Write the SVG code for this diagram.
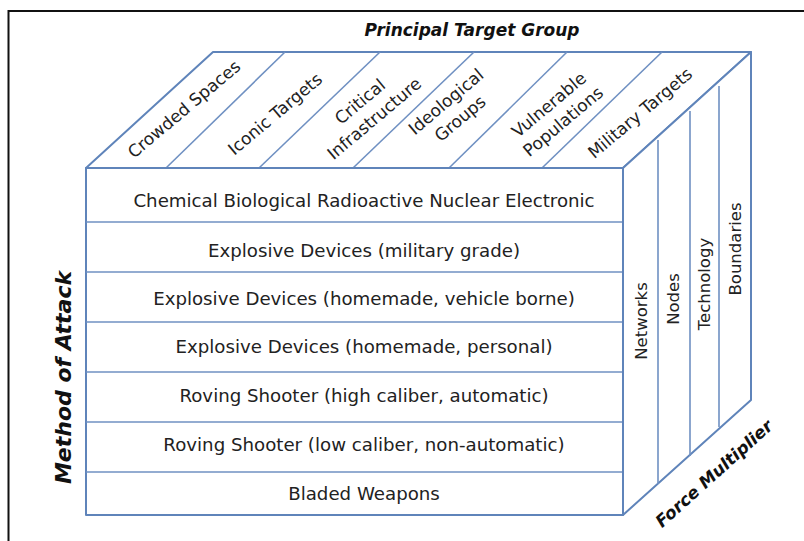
<svg xmlns="http://www.w3.org/2000/svg" width="804" height="541" viewBox="0 0 804 541">
  <style>
    .frame { fill: none; stroke: #111; stroke-width: 2; }
    .face { fill: #fff; stroke: #5f84ba; stroke-width: 2; stroke-linejoin: round; }
    .div { fill: none; stroke: #6f90c2; stroke-width: 1.6; }
    .cell { font-family: "DejaVu Sans", Verdana, sans-serif; font-size: 18.2px; fill: #222; text-anchor: middle; }
    .lbl { font-family: "DejaVu Sans", Verdana, sans-serif; font-size: 17px; fill: #222; text-anchor: middle; }
    .side { font-family: "DejaVu Sans", Verdana, sans-serif; font-size: 16.5px; fill: #222; text-anchor: middle; }
    .axis { font-family: "DejaVu Sans", Verdana, sans-serif; font-weight: bold; font-style: italic; fill: #111; text-anchor: middle; }
  </style>

  <rect x="0" y="0" width="804" height="541" fill="#fff"/>

  <!-- open frame: top and left rules -->
  <g id="frame">
    <polyline class="frame" points="8.5,541 8.5,11 804,11"/>
  </g>

  <!-- top face: principal target groups -->
  <g id="top-face">
    <polygon class="face" points="86,168 213,52 751,52 623,168"/>
    <g class="div">
      <line x1="166" y1="168" x2="285" y2="52"/>
      <line x1="259" y1="168" x2="380" y2="52"/>
      <line x1="353" y1="168" x2="474" y2="52"/>
      <line x1="449" y1="168" x2="567" y2="52"/>
      <line x1="542" y1="168" x2="662" y2="52"/>
    </g>
    <g id="target-crowded-spaces">
      <text class="lbl" transform="translate(184,109) rotate(-40)" y="6">Crowded Spaces</text>
    </g>
    <g id="target-iconic">
      <text class="lbl" transform="translate(275,114) rotate(-40)" y="6">Iconic Targets</text>
    </g>
    <g id="target-critical-infrastructure">
      <text class="lbl" transform="translate(367,110) rotate(-40)"><tspan x="0" y="-5">Critical</tspan><tspan x="0" y="17">Infrastructure</tspan></text>
    </g>
    <g id="target-ideological">
      <text class="lbl" transform="translate(453,110) rotate(-40)"><tspan x="0" y="-5">Ideological</tspan><tspan x="0" y="17">Groups</tspan></text>
    </g>
    <g id="target-vulnerable">
      <text class="lbl" transform="translate(556,113) rotate(-40)"><tspan x="0" y="-5">Vulnerable</tspan><tspan x="0" y="17">Populations</tspan></text>
    </g>
    <g id="target-military">
      <text class="lbl" transform="translate(640,113) rotate(-40)" y="6">Military Targets</text>
    </g>
  </g>

  <!-- front face: methods of attack -->
  <g id="front-face">
    <rect class="face" x="86" y="168" width="537" height="347"/>
    <g class="div">
      <line x1="86" y1="222" x2="623" y2="222"/>
      <line x1="86" y1="272" x2="623" y2="272"/>
      <line x1="86" y1="322" x2="623" y2="322"/>
      <line x1="86" y1="372" x2="623" y2="372"/>
      <line x1="86" y1="422" x2="623" y2="422"/>
      <line x1="86" y1="472" x2="623" y2="472"/>
    </g>
    <g id="method-cbrne"><text class="cell" x="364" y="207">Chemical Biological Radioactive Nuclear Electronic</text></g>
    <g id="method-explosive-military"><text class="cell" x="364" y="257">Explosive Devices (military grade)</text></g>
    <g id="method-explosive-vehicle"><text class="cell" x="364" y="305">Explosive Devices (homemade, vehicle borne)</text></g>
    <g id="method-explosive-personal"><text class="cell" x="364" y="353">Explosive Devices (homemade, personal)</text></g>
    <g id="method-shooter-high"><text class="cell" x="364" y="402">Roving Shooter (high caliber, automatic)</text></g>
    <g id="method-shooter-low"><text class="cell" x="364" y="451">Roving Shooter (low caliber, non-automatic)</text></g>
    <g id="method-bladed"><text class="cell" x="364" y="500">Bladed Weapons</text></g>
  </g>

  <!-- right face: force multipliers -->
  <g id="right-face">
    <polygon class="face" points="623,168 751,52 751,400 623,515"/>
    <g class="div">
      <line x1="658" y1="140" x2="658" y2="484"/>
      <line x1="690" y1="111" x2="690" y2="456"/>
      <line x1="719" y1="86" x2="719" y2="427"/>
    </g>
    <g id="multiplier-networks"><text class="side" transform="translate(647,321) rotate(-90)">Networks</text></g>
    <g id="multiplier-nodes"><text class="side" transform="translate(679,299) rotate(-90)">Nodes</text></g>
    <g id="multiplier-technology"><text class="side" transform="translate(709.5,284) rotate(-90)">Technology</text></g>
    <g id="multiplier-boundaries"><text class="side" transform="translate(741,249) rotate(-90)">Boundaries</text></g>
  </g>

  <!-- axis titles -->
  <g id="axis-labels">
    <text class="axis" x="472" y="36" font-size="17">Principal Target Group</text>
    <text class="axis" font-size="22" transform="translate(71,377.5) rotate(-90)">Method of Attack</text>
    <text class="axis" font-size="17" transform="translate(718,478) rotate(-42)">Force Multiplier</text>
  </g>

  <g id="connectors"/>
</svg>
